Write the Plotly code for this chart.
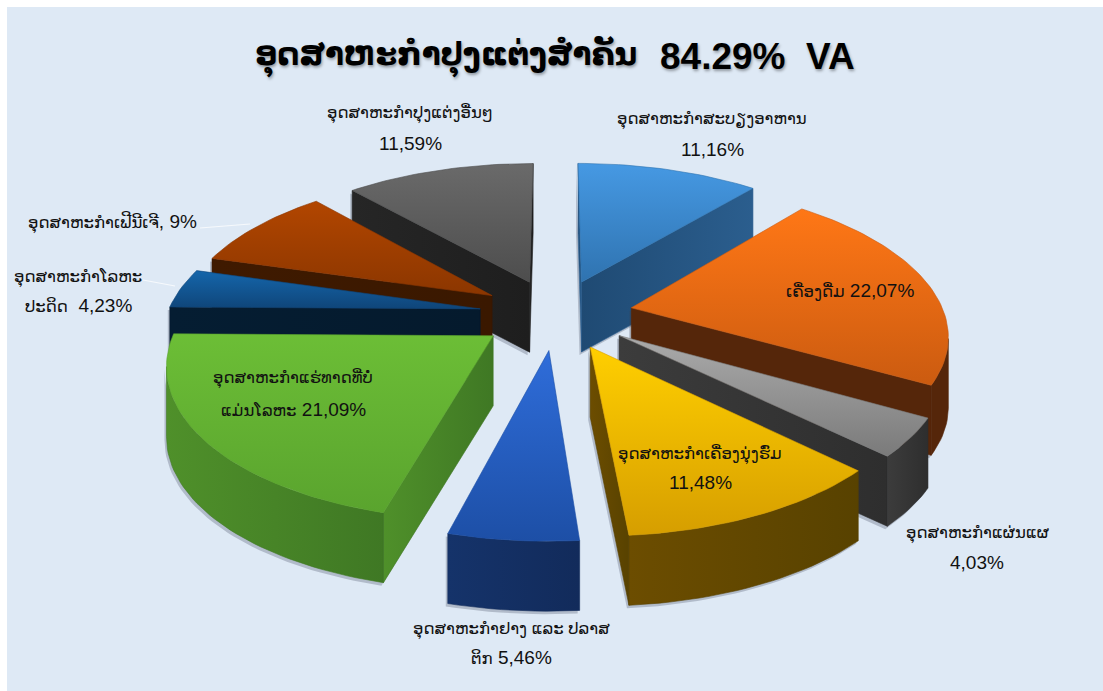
import re
import numpy as np
import plotly.graph_objects as go

# ---- data ----
sectors = ["ອຸດສາຫະກຳສະບຽງອາຫານ", "ເຄື່ອງດື່ມ", "ອຸດສາຫະກຳແຜ່ນແຜ", "ອຸດສາຫະກຳເຄື່ອງນຸ່ງຮົ່ມ",
           "ອຸດສາຫະກຳຢາງ ແລະ ປລາສຕິກ", "ອຸດສາຫະກຳແຮ່ທາດທີ່ບໍ່ແມ່ນໂລຫະ", "ອຸດສາຫະກຳໂລຫະປະດິດ",
           "ອຸດສາຫະກຳເຟີນີເຈີ", "ອຸດສາຫະກຳປຸງແຕ່ງອື່ນໆ"]
shares = [11.16, 22.07, 4.03, 11.48, 5.46, 21.09, 4.23, 9.0, 11.59]
top_hi = ["#4699E3", "#FF7716", "#ABABAB", "#FFCF00", "#2F6DDA", "#6CBE36", "#1566AB", "#B24600", "#6A6A6A"]
top_lo = ["#2F73B0", "#CB5B10", "#7A7A7A", "#D69E00", "#1D4FA6", "#5AA42E", "#0F4579", "#8B3600", "#4D4D4D"]
wall_a = ["#1F4A73", "#55260A", "#3C3C3C", "#6C4D00", "#15336A", "#4F902A", "#051D32", "#3F1A00", "#262626"]
wall_b = ["#2B5E8E", "#55260A", "#2E2E2E", "#584200", "#122B5B", "#3F7824", "#051A2D", "#3A1800", "#1E1E1E"]

title_lao = "ອຸດສາຫະກຳປຸງແຕ່ງສຳຄັນ"
title_rest = "84.29%  VA"
labels = [
    ("ອຸດສາຫະກຳປຸງແຕ່ງອື່ນໆ", 410, 113), ("11,59%", 410, 143),
    ("ອຸດສາຫະກຳສະບຽງອາຫານ", 712, 119), ("11,16%", 712, 149),
    ("ເຄື່ອງດື່ມ 22,07%", 850, 290),
    ("ອຸດສາຫະກຳແຮ່ທາດທີ່ບໍ່", 293, 378), ("ແມ່ນໂລຫະ 21,09%", 293, 409),
    ("ອຸດສາຫະກຳເຄື່ອງນຸ່ງຮົ່ມ", 700, 454), ("11,48%", 700, 482),
    ("ອຸດສາຫະກຳແຜ່ນແຜ", 977, 533), ("4,03%", 977, 562),
    ("ອຸດສາຫະກຳຢາງ ແລະ ປລາສ", 511, 629), ("ຕິກ 5,46%", 511, 657),
    ("ອຸດສາຫະກຳເຟີນີເຈີ, 9%", 112, 222),
    ("ອຸດສາຫະກຳໂລຫະ", 78, 277), ("ປະດິດ  4,23%", 78, 305),
]

# ---- projection of the exploded, extruded pie ----
CX, CY, RX, RY, PERSP, EXPLODE_X, EXPLODE_Y, DEPTH = 556, 314, 313, 147, 0.16, 0.246, 0.24, 70
LAO_SIZE, NUM_SIZE = 16.5, 19


def project(x, c):
    p = 1 / (1 - PERSP * c)
    return CX + RX * x * p, CY + RY * c * p


def area(xs, ys):
    return 0.5 * np.sum(xs * np.roll(ys, -1) - np.roll(xs, -1) * ys)


def poly(fig, xs, ys, c0, c1, orient="vertical"):
    xs, ys = np.asarray(xs), np.asarray(ys)
    lo, hi = (ys.min(), ys.max()) if orient == "vertical" else (xs.min(), xs.max())
    fig.add_trace(go.Scatter(
        x=np.r_[xs, xs[0]], y=np.r_[ys, ys[0]], mode="lines", fill="toself",
        line=dict(color=c1, width=0.6),
        fillgradient=dict(type=orient, start=lo, stop=hi, colorscale=[[0, c0], [1, c1]]),
        hoverinfo="skip", showlegend=False))


def shadow(fig, xs, ys):
    fig.add_trace(go.Scatter(
        x=np.r_[xs, xs[0]], y=np.r_[ys, ys[0]], mode="lines", fill="toself",
        fillcolor="rgba(60,70,90,0.28)", line=dict(width=0),
        hoverinfo="skip", showlegend=False))


def mixed(t, lao_size):
    # Lao runs are set smaller than the Latin digits, as in the reference
    return re.sub(r"([\u0E80-\u0EFF]+(?: [\u0E80-\u0EFF]+)*)",
                  lambda m: f'<span style="font-size:{lao_size}px">{m.group(1)}</span>', t)


fig = go.Figure()
total = sum(shares)
edges = np.cumsum([0] + shares) / total * 2 * np.pi
mids = (edges[:-1] + edges[1:]) / 2
order = np.argsort(-np.cos(mids))  # back to front

for i in order:
    a0, a1, m = edges[i], edges[i + 1], mids[i]
    th = np.linspace(a0, a1, max(int((a1 - a0) * 40), 8))
    ax, ac = EXPLODE_X * np.sin(m), -EXPLODE_Y * np.cos(m)
    X = np.r_[ax, ax + np.sin(th)]
    C = np.r_[ac, ac - np.cos(th)]
    sx, sy = project(X, C)
    arc_x, arc_y = sx[1:], sy[1:]
    base = area(sx, sy)
    walls = []
    for j0, j1 in ((0, 1), (len(sx) - 1, 0)):
        qx = np.array([sx[j0], sx[j1], sx[j1], sx[j0]])
        qy = np.array([sy[j0], sy[j1], sy[j1] + DEPTH, sy[j0] + DEPTH])
        if area(qx, qy) * base < 0:
            walls.append((qx, qy))
    n = len(arc_x)
    run, runs = [], []
    for k in range(n - 1):
        if (arc_x[k + 1] - arc_x[k]) * DEPTH * base < 0:
            run.append(k)
        elif run:
            runs.append(run)
            run = []
    if run:
        runs.append(run)
    for r in runs:
        idx = list(r) + [r[-1] + 1]
        walls.append((np.r_[arc_x[idx], arc_x[idx][::-1]],
                      np.r_[arc_y[idx], arc_y[idx][::-1] + DEPTH]))
    for wx, wy in walls:
        shadow(fig, wx - 2, wy + 3)
    for wx, wy in walls:
        poly(fig, wx, wy, wall_a[i], wall_b[i], "horizontal")
    poly(fig, sx, sy, top_hi[i], top_lo[i], "vertical")

# faint leader lines
for (x0, y0, x1, y1) in [(200, 228, 250, 224), (143, 280, 175, 286)]:
    fig.add_shape(type="line", x0=x0, y0=y0, x1=x1, y1=y1, xref="x", yref="y",
                  line=dict(color="rgba(255,255,255,0.75)", width=1))

for t, x, y in labels:
    fig.add_annotation(x=x, y=y, text=mixed(t, LAO_SIZE), showarrow=False,
                       xanchor="center", yanchor="middle",
                       font=dict(family="Liberation Sans, DejaVu Sans", size=NUM_SIZE, color="#111111"))

title_font = dict(family="Liberation Sans, DejaVu Sans", color="#000000", weight="bold",
                  shadow="1px 2px 3px rgba(0,0,0,0.35)")
fig.add_annotation(x=446, y=56, text=title_lao, showarrow=False, xanchor="center", yanchor="middle",
                   font=dict(size=31, **title_font))
fig.add_annotation(x=757, y=56, text=title_rest, showarrow=False, xanchor="center", yanchor="middle",
                   font=dict(size=37, **title_font))

fig.update_layout(
    width=1103, height=691, margin=dict(l=7, r=0, t=7, b=0),
    paper_bgcolor="#FFFFFF", plot_bgcolor="#DEE9F5", showlegend=False,
    xaxis=dict(range=[7, 1103], visible=False, fixedrange=True),
    yaxis=dict(range=[691, 7], visible=False, fixedrange=True),
)
fig.write_html("out.html", config={"displayModeBar": False},
               post_script="document.body.style.margin='0';")
